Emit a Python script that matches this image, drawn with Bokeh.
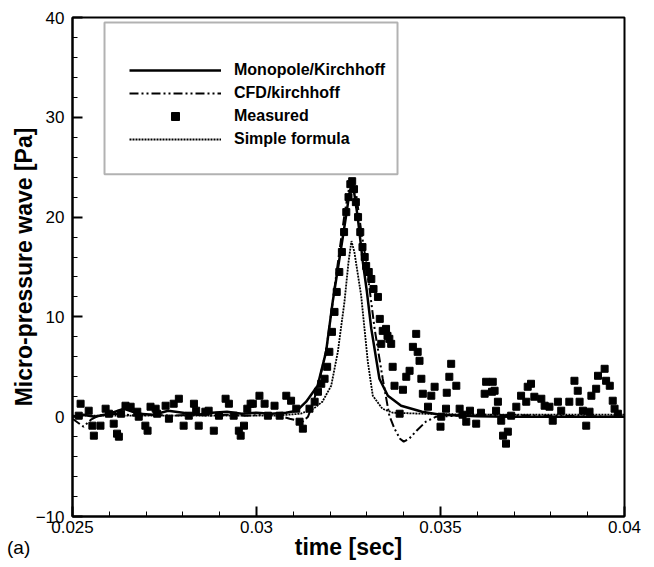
from bokeh.plotting import figure
from bokeh.layouts import column
from bokeh.models import (Legend, LegendItem, FixedTicker, CustomJSTickFormatter,
                          BoxAnnotation, Div, Range1d)
from bokeh.embed import file_html
from bokeh.resources import INLINE

# ---------------- data ----------------
x_ticks = [0.025, 0.03, 0.035, 0.04]
x_minor = [0.026, 0.027, 0.028, 0.029, 0.031, 0.032, 0.033, 0.034,
           0.036, 0.037, 0.038, 0.039]
y_ticks = [-10, 0, 10, 20, 30, 40]
y_minor = [-8, -6, -4, -2, 2, 4, 6, 8, 12, 14, 16, 18, 22, 24, 26, 28,
           32, 34, 36, 38]

mono_t = [0.0250, 0.0253, 0.0256, 0.0260, 0.0264, 0.0268, 0.0272, 0.0276,
          0.0280, 0.0284, 0.0288, 0.0292, 0.0296, 0.0300, 0.0304, 0.0308,
          0.0311, 0.03135, 0.03166, 0.03189, 0.03207, 0.03235, 0.03245,
          0.03252, 0.03258, 0.03264, 0.03275, 0.03289, 0.03300, 0.03312,
          0.03334, 0.03357, 0.03393, 0.0345, 0.0350, 0.0360, 0.0370, 0.0400]
mono_v = [0.0, 0.2, 0.0, 0.3, 0.8, 0.3, 0.2, 0.6,
          0.4, 0.2, 0.4, 0.5, 0.3, 0.4, 0.3, 0.4,
          0.6, 1.5, 3.1, 6.5, 11.5, 18.1, 20.5,
          22.3, 23.2, 22.8, 20.0, 15.5, 12.5, 8.8,
          3.8, 2.1, 1.1, 0.5, 0.2, 0.05, 0.0, 0.0]

cfd_t = [0.0250, 0.02515, 0.0253, 0.0255, 0.0257, 0.0262, 0.0267, 0.0272,
         0.0277, 0.0282, 0.0287, 0.0292, 0.0297, 0.0302, 0.0306, 0.0309,
         0.03125, 0.03140, 0.03155, 0.03170, 0.03190, 0.03207, 0.03225,
         0.03240, 0.03252, 0.03260, 0.03270, 0.03285, 0.03298, 0.03321,
         0.03343, 0.03361, 0.03375, 0.03390, 0.03400, 0.03415, 0.03435,
         0.03460, 0.03488, 0.0360, 0.0380, 0.0400]
cfd_v = [-0.2, -0.6, -1.0, -0.3, 0.1, 0.3, 0.1, 0.2,
         0.1, 0.2, 0.1, 0.2, 0.1, 0.2, 0.1, -0.2,
         -0.5, 0.0, 1.5, 3.5, 6.8, 11.5, 16.5,
         20.5, 23.0, 23.6, 22.5, 18.5, 15.5, 8.8,
         3.8, 0.1, -1.2, -2.2, -2.5, -2.2, -1.4,
         -0.5, 0.0, 0.2, 0.1, 0.0]

simple_t = [0.0250, 0.0280, 0.0305, 0.0312, 0.03155, 0.03179, 0.03203,
            0.03221, 0.03239, 0.03250, 0.03258, 0.03266, 0.032845,
            0.033025, 0.03316, 0.03342, 0.0337, 0.0345, 0.0360, 0.0400]
simple_v = [0.1, 0.1, 0.1, 0.3, 0.8, 1.5, 3.1,
            6.5, 11.5, 15.5, 17.6, 16.5, 12.1,
            5.5, 2.1, 0.8, 0.4, 0.3, 0.2, 0.2]

meas_t = [0.02517, 0.02522, 0.02544, 0.02554, 0.02558, 0.02576, 0.02590,
          0.02599, 0.02612, 0.02621, 0.02626, 0.02632, 0.02644, 0.02658,
          0.02676, 0.02680, 0.02698, 0.02704, 0.02712, 0.02726, 0.02730,
          0.02753, 0.02762, 0.02775, 0.02789, 0.02802, 0.02816, 0.02830,
          0.02836, 0.02843, 0.02861, 0.02870, 0.02884, 0.02898, 0.02916,
          0.02925, 0.02938, 0.02952, 0.02957, 0.02966, 0.02975, 0.02984,
          0.02990, 0.03008, 0.03022, 0.03031, 0.03049, 0.03063, 0.03081,
          0.03094, 0.03108, 0.03117, 0.03126, 0.03144, 0.03158, 0.03167,
          0.03176, 0.03185, 0.03192, 0.03198, 0.03205, 0.03212, 0.03218,
          0.03225, 0.03232, 0.03238, 0.03244, 0.03250, 0.03255, 0.03260,
          0.03265, 0.03270, 0.03276, 0.03282, 0.03288, 0.03294, 0.03298,
          0.03305, 0.03312, 0.03318, 0.03330, 0.03335, 0.03339, 0.03343,
          0.03352, 0.03356, 0.03361, 0.03366, 0.03370, 0.03375, 0.03389,
          0.03398, 0.03407, 0.03416, 0.03425, 0.03434, 0.03438, 0.03443,
          0.03448, 0.03452, 0.03466, 0.03475, 0.03484, 0.03500, 0.03502,
          0.03515, 0.03517, 0.03524, 0.03529, 0.03543, 0.03552, 0.03560,
          0.03570, 0.03580, 0.03597, 0.03610, 0.03620, 0.03624, 0.03640,
          0.03642, 0.03647, 0.03651, 0.03656, 0.03665, 0.03670, 0.03678,
          0.03683, 0.03692, 0.03706, 0.03719, 0.03733, 0.03737, 0.03746,
          0.03755, 0.03774, 0.03783, 0.03796, 0.03805, 0.03819, 0.03828,
          0.03850, 0.03864, 0.03873, 0.03878, 0.03887, 0.03896, 0.03905,
          0.03910, 0.03923, 0.03928, 0.03946, 0.03950, 0.03960, 0.03968,
          0.03973, 0.03982]
meas_v = [0.1, 1.3, 0.6, -0.9, -1.9, -0.9, 0.8,
          0.3, -0.7, -1.7, -2.0, 0.3, 1.1, 1.0,
          0.5, 0.0, -0.9, -1.4, 1.0, 0.8, 0.3,
          1.1, -0.2, 1.3, 1.8, -0.9, 0.1, 1.3,
          0.6, -0.9, 0.5, 0.6, -1.4, 0.1, 1.8,
          1.3, 0.1, -1.4, -1.9, -0.9, 0.8, 1.3,
          1.3, 2.1, 1.3, 0.1, 1.1, 0.1, 2.1,
          1.6, 0.8, -0.5, -1.2, 0.8, 1.5, 2.5,
          3.3, 3.8, 5.0, 6.5, 8.5, 10.5, 12.5,
          14.5, 16.5, 18.5, 20.5, 22.0, 23.3, 23.6,
          22.8, 21.5, 20.0, 18.5, 17.0, 16.0, 15.1,
          14.5, 13.8, 12.8, 12.0, 9.8, 7.3, 8.6,
          8.8, 8.1, 7.8, 7.3, 5.0, 3.1, 0.3,
          2.7, 4.0, 4.6, 7.0, 8.3, 6.5, 5.6,
          3.8, 2.3, 1.0, 2.1, 3.0, -1.0, 0.0,
          0.8, 2.4, 4.0, 5.3, 3.1, 0.8, 0.2,
          -0.5, 0.6, -0.7, 0.4, 2.3, 3.5, 2.5,
          3.5, 2.6, 0.6, 1.5, -0.4, -1.9, -2.7,
          -1.5, 0.1, 1.0, 2.1, 1.5, 3.0, 3.3,
          2.0, 1.8, 1.1, 1.0, -0.4, 1.5, 0.6,
          1.5, 3.6, 2.6, 1.5, 0.6, -0.9, 0.5,
          2.1, 2.8, 4.1, 4.8, 3.6, 3.1, 1.6,
          0.8, 0.3]

labels = ["Monopole/Kirchhoff", "CFD/kirchhoff", "Measured", "Simple formula"]
panel_tag = "(a)"

# ---------------- figure ----------------
FONT = "Liberation Sans"
p = figure(width=645, height=564, output_backend="svg", toolbar_location=None,
           x_range=Range1d(0.025, 0.04), y_range=Range1d(-10, 40),
           min_border_left=72, min_border_right=21, min_border_top=17,
           min_border_bottom=48)
p.grid.visible = False
p.outline_line_color = "black"
p.outline_line_width = 2
p.background_fill_color = "white"
p.border_fill_color = "white"

p.xaxis.ticker = FixedTicker(ticks=x_ticks, minor_ticks=x_minor)
p.yaxis.ticker = FixedTicker(ticks=y_ticks, minor_ticks=y_minor)
p.xaxis.formatter = CustomJSTickFormatter(code="return tick.toString();")
p.xaxis.axis_label = "time [sec]"
p.yaxis.axis_label = "Micro-pressure wave [Pa]"

for ax in (p.xaxis[0], p.yaxis[0]):
    ax.axis_line_width = 2
    ax.axis_line_color = "black"
    ax.major_tick_in = 10
    ax.major_tick_out = 0
    ax.minor_tick_in = 5
    ax.minor_tick_out = 0
    ax.major_tick_line_width = 2
    ax.minor_tick_line_width = 1
    ax.major_tick_line_color = "black"
    ax.minor_tick_line_color = "black"
    ax.major_label_text_font = FONT
    ax.major_label_text_font_size = "17px"
    ax.major_label_text_color = "black"
    ax.axis_label_text_font = FONT
    ax.axis_label_text_font_style = "bold"
    ax.axis_label_text_font_size = "23px"
    ax.axis_label_text_color = "black"
p.xaxis.major_label_standoff = 4
p.xaxis.axis_label_standoff = -2
p.yaxis.major_label_standoff = 8
p.yaxis.axis_label_standoff = -4

r_meas = p.scatter(meas_t, meas_v, marker="square", size=7,
                   fill_color="black", line_color="black")
r_mono = p.line(mono_t, mono_v, line_color="black", line_width=2.5)
r_cfd = p.line(cfd_t, cfd_v, line_color="black", line_width=2,
               line_dash="9 3 2 3 2 3")
r_simple = p.line(simple_t, simple_v, line_color="black", line_width=1.8,
                  line_dash="2 1")

# legend frame (annotation)
box = BoxAnnotation(left=0.02587, right=0.033832, top=39.5, bottom=24.3,
                    fill_color="white", fill_alpha=1.0,
                    line_color="black", line_width=2)
p.add_layout(box)

legend = Legend(items=[LegendItem(label=labels[0], renderers=[r_mono]),
                       LegendItem(label=labels[1], renderers=[r_cfd]),
                       LegendItem(label=labels[2], renderers=[r_meas]),
                       LegendItem(label=labels[3], renderers=[r_simple])],
                location=(57, 367), padding=0, margin=0, spacing=3,
                glyph_width=92, glyph_height=20, label_height=20,
                label_standoff=13, border_line_alpha=0,
                background_fill_alpha=0,
                label_text_font=FONT, label_text_font_style="bold",
                label_text_font_size="16px", label_text_color="black")
p.add_layout(legend)

# panel tag "(a)" at the bottom-left corner, overlapping the figure's border
tag = Div(text=panel_tag, width=34, height=22, margin=(-27, 0, 0, 7),
          styles={"font-family": FONT, "font-size": "19px", "color": "black",
                  "line-height": "22px"})

layout = column(p, tag, spacing=0)
open("out.html", "w").write(file_html(layout, INLINE))
